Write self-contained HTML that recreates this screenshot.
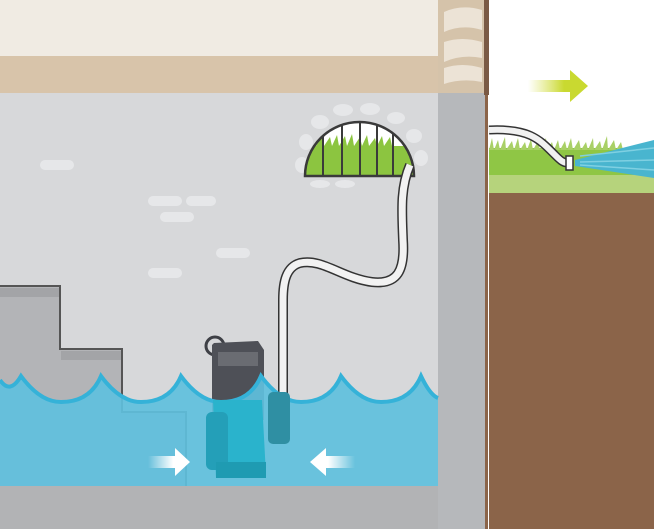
<!DOCTYPE html>
<html><head><meta charset="utf-8"><style>html,body{margin:0;padding:0;background:#fff}svg{display:block}</style></head><body>
<svg width="654" height="529" viewBox="0 0 654 529" xmlns="http://www.w3.org/2000/svg">
<defs>
<linearGradient id="ar" x1="0" x2="1"><stop offset="0" stop-color="#d7e04a" stop-opacity="0"/><stop offset="0.6" stop-color="#c9d930"/></linearGradient>
<linearGradient id="wa" x1="0" x2="1"><stop offset="0" stop-color="#fff" stop-opacity="0"/><stop offset="0.6" stop-color="#fff"/></linearGradient>
<linearGradient id="wb" x1="1" x2="0"><stop offset="0" stop-color="#fff" stop-opacity="0"/><stop offset="0.6" stop-color="#fff"/></linearGradient>
<clipPath id="arch"><path d="M305 176 A54.5 54 0 0 1 414 176 Z"/></clipPath>
</defs>
<rect x="0" y="0" width="486" height="56" fill="#f0ebe3"/>
<rect x="0" y="56" width="486" height="37" fill="#d8c4aa"/>
<rect x="438" y="0" width="48" height="93" fill="#d5c3aa"/>
<g fill="#ece3d6">
<path d="M444 12 Q462 4 482 10 L482 30 Q462 24 444 32Z"/>
<path d="M444 42 Q462 36 482 42 L482 58 Q462 54 444 62Z"/>
<path d="M444 68 Q462 62 482 68 L482 82 Q462 78 444 84Z"/>
</g>
<rect x="0" y="93" width="438" height="393" fill="#d7d8da"/>
<rect x="438" y="93" width="48" height="436" fill="#b6b8bb"/>
<rect x="0" y="486" width="438" height="43" fill="#b2b3b5"/>
<g fill="#e6e7e9">
<rect x="40" y="160" width="34" height="10" rx="5"/>
<rect x="148" y="196" width="34" height="10" rx="5"/>
<rect x="186" y="196" width="30" height="10" rx="5"/>
<rect x="160" y="212" width="34" height="10" rx="5"/>
<rect x="216" y="248" width="34" height="10" rx="5"/>
<rect x="148" y="268" width="34" height="10" rx="5"/>
</g>
<rect x="489" y="0" width="165" height="150" fill="#fff"/>
<rect x="489" y="148" width="165" height="28" fill="#8fc645"/>
<rect x="489" y="175" width="165" height="18" fill="#b6d37c"/>
<rect x="489" y="193" width="165" height="336" fill="#8b6449"/>
<path d="M489 150 l3 -12 l2 12 l4 -10 l2 10 l5 -13 l1 13 l6 -9 l2 9 l4 -12 l2 12 l5 -8 l2 8 l4 -11 l2 11 l5 -9 l2 9 l6 -12 l1 12 l5 -8 l2 8 l4 -10 l2 10 l5 -9 l2 9 l4 -12 l2 12 l6 -10 l2 10 l5 -8 l2 8 l5 -12 l1 12 l6 -9 l2 9 l5 -14 l1 14 l6 -10 l2 10 l5 -8 l2 8 L654 150Z" fill="#a9d066"/>
<path d="M575 160 L654 140 L654 178 L575 166Z" fill="#49b5cf"/>
<path d="M580 156 L654 148 M580 162 L654 160 M580 165 L654 170" stroke="#7fd0e2" stroke-width="1.5"/>
<rect x="484" y="0" width="5" height="95" fill="#7a5a45"/>
<rect x="485" y="95" width="3" height="434" fill="#8b6449"/>
<path d="M528 80 L570 80 L570 70 L588 86 L570 102 L570 92 L528 92Z" fill="url(#ar)"/>
<path d="M489 130 C530 128 540 140 555 155 C560 160 563 163 568 163" fill="none" stroke="#333" stroke-width="9"/>
<path d="M489 130 C530 128 540 140 555 155 C560 160 563 163 568 163" fill="none" stroke="#f1f1f1" stroke-width="6"/>
<rect x="566" y="156" width="7" height="14" fill="#fff" stroke="#333" stroke-width="1.5"/>
<!-- window stones -->
<g fill="#e6e7e9">
<ellipse cx="302" cy="165" rx="7" ry="8"/><ellipse cx="306" cy="142" rx="7" ry="8"/><ellipse cx="320" cy="122" rx="9" ry="7"/>
<ellipse cx="343" cy="110" rx="10" ry="6"/><ellipse cx="370" cy="109" rx="10" ry="6"/><ellipse cx="396" cy="118" rx="9" ry="6"/>
<ellipse cx="414" cy="136" rx="8" ry="7"/><ellipse cx="421" cy="158" rx="7" ry="8"/>
<ellipse cx="320" cy="184" rx="10" ry="4"/><ellipse cx="345" cy="184" rx="10" ry="4"/>
</g>
<g clip-path="url(#arch)">
<rect x="300" y="115" width="120" height="65" fill="#fff"/>
<path d="M300 180 L300 146 l6 -8 l3 8 l5 -10 l2 10 l6 -12 l2 12 l6 -9 l2 9 l5 -11 l2 11 l6 -10 l2 10 l5 -12 l2 12 l6 -9 l2 9 l5 -11 l2 11 l6 -8 l2 8 l5 -10 l2 10 l6 -9 l2 9 L420 146 L420 180Z" fill="#8cc540"/>
<g stroke="#3a3a3a" stroke-width="2">
<line x1="323" y1="110" x2="323" y2="176"/><line x1="342" y1="110" x2="342" y2="176"/><line x1="360" y1="110" x2="360" y2="176"/><line x1="377" y1="110" x2="377" y2="176"/><line x1="393" y1="110" x2="393" y2="176"/>
</g>
</g>
<path d="M305 176 A54.5 54 0 0 1 414 176 Z" fill="none" stroke="#3a3a3a" stroke-width="2.5"/>
<path d="M0 286 L60 286 L60 349 L122 349 L122 412 L186 412 L186 486 L0 486Z" fill="#b3b4b7"/>
<path d="M0 286 L60 286 L60 349 L122 349 L122 412 L186 412 L186 486" fill="none" stroke="#555" stroke-width="2"/>
<rect x="0" y="288" width="59" height="9" fill="#a3a4a7"/>
<rect x="61" y="351" width="60" height="9" fill="#a3a4a7"/>
<!-- hose -->
<path d="M410 165 C400 188 402 212 403 240 C405 270 398 285 372 282 C342 278 322 258 300 263 C286 267 283 282 283 300 L283 395" fill="none" stroke="#333" stroke-width="10"/>
<path d="M410 165 C400 188 402 212 403 240 C405 270 398 285 372 282 C342 278 322 258 300 263 C286 267 283 282 283 300 L283 395" fill="none" stroke="#f2f2f2" stroke-width="7"/>
<circle cx="215" cy="346" r="9" fill="none" stroke="#3e4046" stroke-width="3"/>
<path d="M212 345 L214 343 L258 341 L264 350 L264 420 L212 420Z" fill="#4e5057"/>
<rect x="218" y="352" width="40" height="14" fill="#6a6c72"/>
<path d="M0 380 Q10 395 21 376 Q40 402 61 402 Q90 402 101 376 Q120 402 141 402 Q170 402 181 376 Q200 402 221 402 Q250 402 261 376 Q280 402 301 402 Q330 402 341 376 Q360 402 381 402 Q410 402 421 376 Q430 395 438 398 L438 486 L0 486Z" fill="#5fc0dd" fill-opacity="0.92"/>
<path d="M0 380 Q10 395 21 376 Q40 402 61 402 Q90 402 101 376 Q120 402 141 402 Q170 402 181 376 Q200 402 221 402 Q250 402 261 376 Q280 402 301 402 Q330 402 341 376 Q360 402 381 402 Q410 402 421 376 Q430 395 438 398" fill="none" stroke="#35b2d8" stroke-width="4"/>
<path d="M213 400 L262 400 L266 475 L216 478Z" fill="#2ab3cc"/>
<rect x="206" y="412" width="22" height="58" rx="6" fill="#249fb8"/>
<rect x="268" y="392" width="22" height="52" rx="5" fill="#2f8fa3"/>
<rect x="216" y="462" width="50" height="16" fill="#1f9bb2"/>
<path d="M148 456 L175 456 L175 448 L190 462 L175 476 L175 468 L148 468Z" fill="url(#wa)"/>
<path d="M355 456 L326 456 L326 448 L310 462 L326 476 L326 468 L355 468Z" fill="url(#wb)"/>
</svg>
</body></html>
